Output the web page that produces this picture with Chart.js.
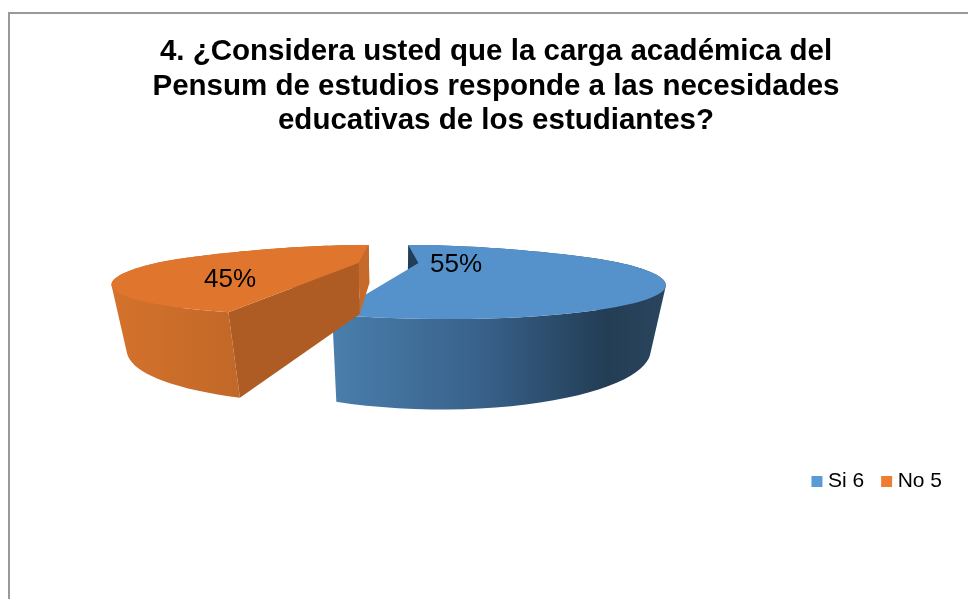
<!DOCTYPE html>
<html lang="es">
<head>
<meta charset="utf-8">
<title>Carga académica</title>
<script src="https://cdn.jsdelivr.net/npm/chart.js@4"></script>
<style>
    html, body { margin: 0; padding: 0; background: #fff; overflow: hidden; }
    #marco { position: absolute; left: 8px; top: 12px; width: 980px; height: 600px; border: 2px solid #999; border-right: 0; border-bottom: 0; }
    #grafico { position: absolute; left: 0; top: 0; }
</style>
</head>
<body>
<div id="marco"></div>
<canvas id="grafico" width="968" height="599"></canvas>
<script>
// Datos
const categorias = ["Si 6", "No 5"];
const valores = [6, 5];
const tituloLineas = [
    "4. ¿Considera usted que la carga académica del",
    "Pensum de estudios responde a las necesidades",
    "educativas de los estudiantes?"
];

// Colores de cada porción
const coloresLeyenda = ["#5B9BD5", "#ED7D31"];
const coloresCara = ["#5592CB", "#E0752E"];
const coloresPared = ["#233F58", "#AE5C23"];
const coloresParedFondo = ["#233F58", "#C56A2A"];
const coloresBorde = [
    [[0, "#4A7EAC"], [0.45, "#38618A"], [0.82, "#233D55"], [1, "#2A455D"]],
    [[0, "#D4722C"], [1, "#AF5E24"]]
];
const posicionEtiquetas = [[456, 265], [230, 280]];
// Corrección de la esquina frontal de cada porción (x, y)
const ajusteFrente = [[-0.01, 0], [0.025, 0.03]];

// Perspectiva del pastel (punto de fuga, focal y distancia)
const FUGA_X = 388.5, FUGA_Y = 210, FOCAL = 393, ALTO = 103, DIST = 1.944;
const NADIR_Y = 1500, SEPARACION = 0.15;

function proyectar(X, Y) {
    const d = DIST - Y;
    return { x: FUGA_X + FOCAL * X / d, y: FUGA_Y + ALTO / d };
}

// Punto equivalente en la base del cilindro
function bajar(p) {
    const H = 14 + 0.7 * (p.y - FUGA_Y);
    const s = H / (NADIR_Y - p.y);
    return { x: p.x + s * (FUGA_X - p.x), y: p.y + H };
}

function trazar(ctx, puntos) {
    puntos.forEach((p, i) => i ? ctx.lineTo(p.x, p.y) : ctx.moveTo(p.x, p.y));
    ctx.closePath();
}

function poligono(ctx, puntos, relleno) {
    ctx.beginPath();
    trazar(ctx, puntos);
    ctx.fillStyle = relleno;
    ctx.fill();
}

function area(q) {
    return q.reduce((acc, p, i) => {
        const n = q[(i + 1) % q.length];
        return acc + p.x * n.y - n.x * p.y;
    }, 0);
}

function dibujarPorcion(ctx, arco, i) {
    const ini = arco.startAngle, fin = arco.endAngle, medio = (ini + fin) / 2;
    const ox = SEPARACION * Math.cos(medio);
    const centro = proyectar(ox, 0);
    const centroBase = bajar(centro);

    const borde = [];
    for (let k = 0; k <= 80; k++) {
        const a = ini + (fin - ini) * k / 80;
        const s = Math.sin(a);
        // el fondo del pastel queda algo más aplanado que el frente
        const Y = s < 0 ? s * (0.65 - 0.35 * s) : s;
        const f4 = s > 0 ? Math.pow(s, 6) : 0;
        borde.push(proyectar(ox + Math.cos(a) + ajusteFrente[i][0] * f4, Y - ajusteFrente[i][1] * f4));
    }
    const bordeBase = borde.map(bajar);

    // Pared curva con degradado horizontal: todos los tramos en un solo trazado,
    // con el mismo sentido de giro para que no queden costuras
    const xs = bordeBase.concat(borde).map(p => p.x);
    const grad = ctx.createLinearGradient(Math.min(...xs), 0, Math.max(...xs), 0);
    coloresBorde[i].forEach(([pos, c]) => grad.addColorStop(pos, c));
    ctx.beginPath();
    for (let k = 0; k < borde.length - 1; k++) {
        const q = [borde[k], borde[k + 1], bordeBase[k + 1], bordeBase[k]];
        trazar(ctx, area(q) < 0 ? q.reverse() : q);
    }
    ctx.fillStyle = grad;
    ctx.fill();

    // Paredes rectas: solo las que miran hacia el observador
    const pared = (r) => {
        const rb = bajar(r);
        return { puntos: [centro, r, rb, centroBase], giro: (r.x - centro.x) * (centroBase.y - centro.y) - (r.y - centro.y) * (centroBase.x - centro.x) };
    };
    const pInicio = pared(borde[0]);
    const pFin = pared(borde[borde.length - 1]);
    if (pFin.giro > 0) poligono(ctx, pFin.puntos, coloresParedFondo[i]);
    if (pInicio.giro < 0) poligono(ctx, pInicio.puntos, coloresPared[i]);

    // Cara superior
    poligono(ctx, [centro].concat(borde), coloresCara[i]);
}

const pastel3d = {
    id: "pastel3d",
    beforeDatasetDraw(chart, args) {
        const ctx = chart.ctx;
        const arcos = chart.getDatasetMeta(args.index).data;
        ctx.save();
        arcos.forEach((arco, i) => dibujarPorcion(ctx, arco, i));

        // Porcentajes sobre cada porción
        const total = valores.reduce((acc, v) => acc + v, 0);
        ctx.fillStyle = "#000";
        ctx.font = "26px 'Liberation Sans'";
        ctx.textAlign = "center";
        ctx.textBaseline = "middle";
        valores.forEach((v, i) => {
            ctx.fillText(Math.round(v / total * 100) + "%", posicionEtiquetas[i][0], posicionEtiquetas[i][1]);
        });
        ctx.restore();
        return false; // el arco plano de la librería no se pinta
    }
};

new Chart(document.getElementById("grafico"), {
    type: "pie",
    data: {
        labels: categorias,
        datasets: [{ data: valores, backgroundColor: coloresLeyenda, borderWidth: 0 }]
    },
    options: {
        responsive: false,
        animation: false,
        layout: { padding: { left: 28, right: 4, top: 15, bottom: 97 } },
        plugins: {
            tooltip: { enabled: false },
            title: {
                display: true,
                text: tituloLineas,
                color: "#000",
                font: { family: "'Liberation Sans'", size: 29.5, weight: "bold", lineHeight: 1.17 },
                padding: { top: 20, bottom: 10 }
            },
            legend: {
                position: "bottom",
                align: "end",
                labels: {
                    color: "#000",
                    font: { family: "'Liberation Sans'", size: 21 },
                    usePointStyle: true,
                    pointStyle: "rect",
                    boxWidth: 1,
                    boxHeight: 11,
                    padding: 22
                }
            }
        }
    },
    plugins: [pastel3d]
});
</script>
</body>
</html>
